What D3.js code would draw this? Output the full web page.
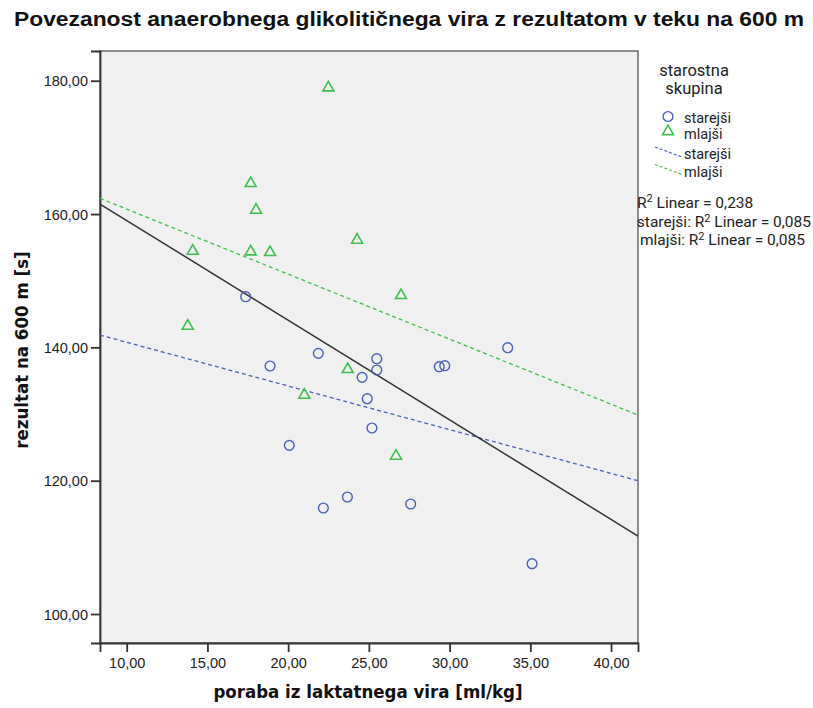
<!DOCTYPE html>
<html>
<head>
<meta charset="utf-8">
<script src="https://cdn.jsdelivr.net/npm/d3@7"></script>
<style>
  html, body { margin: 0; padding: 0; background: #ffffff; }
  svg { display: block; }
</style>
</head>
<body>
<svg id="chart" width="813" height="708"></svg>
<script>
// ---------------- data ----------------
const chartTitle = "Povezanost anaerobnega glikolitičnega vira z rezultatom v teku na 600 m";
const xTitle = "poraba iz laktatnega vira [ml/kg]";
const yTitle = "rezultat na 600 m [s]";
const groupNames = ["starejši", "mlajši"];
const legendTitle = ["starostna", "skupina"];

// starejši (circles)
const olderX = [17.37, 21.87, 18.88, 20.07, 22.18, 23.67, 25.49, 25.49, 24.58, 24.90, 25.19, 29.36, 29.70, 33.60, 27.59, 35.11];
const olderY = [147.6, 139.1, 137.2, 125.3, 115.9, 117.55, 138.3, 136.6, 135.5, 132.3, 127.9, 137.1, 137.25, 139.95, 116.5, 107.55];

// mlajši (triangles)
const youngerX = [22.49, 17.68, 18.01, 14.09, 17.68, 18.88, 24.27, 13.78, 26.99, 23.69, 21.00, 26.68];
const youngerY = [178.95, 164.6, 160.6, 154.45, 154.35, 154.25, 156.1, 143.2, 147.8, 136.7, 132.85, 123.7];

// fit lines: values at the two ends of the x domain
const fitX = [8.346, 41.67];
const fitTotalY = [161.5, 111.7];
const fitOlderY = [141.85, 120.0];
const fitYoungerY = [162.35, 129.85];

const xTicks = [10, 15, 20, 25, 30, 35, 40];
const yTicks = [100, 120, 140, 160, 180];
const r2Labels = ["R² Linear = 0,238", "starejši: R² Linear = 0,085", "mlajši: R² Linear = 0,085"];

// ---------------- layout ----------------
const svg = d3.select("#chart");
const plot = { left: 100, right: 638, top: 51, bottom: 643 };
const blue = "#4a62b4";
const green = "#3ec04e";
const fmt = v => d3.format(".2f")(v).replace(".", ",");

const x = d3.scaleLinear().domain([8.346, 41.67]).range([plot.left, plot.right]);
const y = d3.scaleLinear().domain([95.65, 184.46]).range([plot.bottom, plot.top]);

// title
svg.append("text")
  .attr("x", 409).attr("y", 26)
  .attr("text-anchor", "middle")
  .attr("textLength", 790).attr("lengthAdjust", "spacingAndGlyphs")
  .style("font-family", "'Liberation Sans', Arial, sans-serif")
  .style("font-weight", "bold").style("font-size", "20px").style("fill", "#111")
  .text(chartTitle);

// plot background
svg.append("rect")
  .attr("x", plot.left).attr("y", plot.top)
  .attr("width", plot.right - plot.left).attr("height", plot.bottom - plot.top)
  .attr("fill", "#f0f0f0").attr("stroke", "#555").attr("stroke-width", 1.3);

svg.append("clipPath").attr("id", "clip").append("rect")
  .attr("x", plot.left).attr("y", plot.top)
  .attr("width", plot.right - plot.left).attr("height", plot.bottom - plot.top);

// axes
const xAxis = svg.append("g")
  .attr("transform", `translate(0,${plot.bottom})`)
  .call(d3.axisBottom(x).tickValues(xTicks).tickFormat(fmt).tickSizeOuter(0).tickSize(9).tickPadding(6));
const yAxis = svg.append("g")
  .attr("transform", `translate(${plot.left},0)`)
  .call(d3.axisLeft(y).tickValues(yTicks).tickFormat(fmt).tickSizeOuter(0).tickSize(9).tickPadding(3));
[xAxis, yAxis].forEach(g => {
  g.select(".domain").attr("stroke", "#333").attr("stroke-width", 1.8);
  g.selectAll(".tick line").attr("stroke", "#333").attr("stroke-width", 1.8);
  g.selectAll(".tick text")
    .style("font-family", "'Liberation Sans', Arial, sans-serif")
    .style("font-size", "14.5px").style("fill", "#222");
});
yAxis.selectAll(".tick text").attr("dy", "0.35em");

// axis titles
svg.append("text")
  .attr("x", (plot.left + plot.right) / 2 - 1).attr("y", 698)
  .attr("text-anchor", "middle")
  .style("font-family", "'DejaVu Sans Condensed', 'DejaVu Sans', sans-serif")
  .style("font-weight", "bold").style("font-size", "18.5px").style("fill", "#111")
  .text(xTitle);
svg.append("text")
  .attr("transform", `translate(28,${(plot.top + plot.bottom) / 2 + 3}) rotate(-90)`)
  .attr("text-anchor", "middle")
  .style("font-family", "'DejaVu Sans Condensed', 'DejaVu Sans', sans-serif")
  .style("font-weight", "bold").style("font-size", "18.5px").style("fill", "#111")
  .text(yTitle);

// fit lines
const lineGen = d3.line().x(d => x(d[0])).y(d => y(d[1]));
const fitG = svg.append("g").attr("clip-path", "url(#clip)");
fitG.append("path").datum(d3.zip(fitX, fitOlderY)).attr("d", lineGen)
  .attr("fill", "none").attr("stroke", blue).attr("stroke-width", 1.3).attr("stroke-dasharray", "4,3");
fitG.append("path").datum(d3.zip(fitX, fitYoungerY)).attr("d", lineGen)
  .attr("fill", "none").attr("stroke", green).attr("stroke-width", 1.3).attr("stroke-dasharray", "4,3");
fitG.append("path").datum(d3.zip(fitX, fitTotalY)).attr("d", lineGen)
  .attr("fill", "none").attr("stroke", "#333").attr("stroke-width", 1.5);

// points
const circleSym = d3.symbol().type(d3.symbolCircle).size(75);
const triSym = d3.symbol().type(d3.symbolTriangle).size(52);
svg.append("g").selectAll("path").data(d3.zip(olderX, olderY)).join("path")
  .attr("d", circleSym)
  .attr("transform", d => `translate(${x(d[0])},${y(d[1])})`)
  .attr("fill", "none").attr("stroke", blue).attr("stroke-width", 1.4);
svg.append("g").selectAll("path").data(d3.zip(youngerX, youngerY)).join("path")
  .attr("d", triSym)
  .attr("transform", d => `translate(${x(d[0])},${y(d[1])})`)
  .attr("fill", "none").attr("stroke", green).attr("stroke-width", 1.6);

// legend
const lg = svg.append("g")
  .style("font-family", "Roboto, 'Liberation Sans', sans-serif").style("fill", "#222");
const lgTitle = lg.append("text").attr("x", 694).attr("y", 76)
  .attr("text-anchor", "middle").style("font-size", "16.5px");
legendTitle.forEach((t, i) => {
  lgTitle.append("tspan").attr("x", 694).attr("dy", i === 0 ? 0 : 18).text(t);
});
lg.append("path").attr("d", circleSym).attr("transform", "translate(668,116.5)")
  .attr("fill", "none").attr("stroke", blue).attr("stroke-width", 1.4);
lg.append("path").attr("d", triSym).attr("transform", "translate(668,131.5)")
  .attr("fill", "none").attr("stroke", green).attr("stroke-width", 1.6);
lg.append("line").attr("x1", 655).attr("y1", 147).attr("x2", 682).attr("y2", 157)
  .attr("stroke", blue).attr("stroke-width", 1.2).attr("stroke-dasharray", "3,2");
lg.append("line").attr("x1", 655).attr("y1", 164.5).attr("x2", 682).attr("y2", 174.5)
  .attr("stroke", green).attr("stroke-width", 1.2).attr("stroke-dasharray", "3,2");
const legY = [118, 134, 154, 172];
const legLabels = [groupNames[0], groupNames[1], groupNames[0], groupNames[1]];
legLabels.forEach((t, i) => {
  lg.append("text").attr("x", 684).attr("y", legY[i]).attr("dy", "0.35em")
    .style("font-size", "14.5px").text(t);
});

// R² labels
const r2X = [637, 811, 805];
const r2Anchor = ["start", "end", "end"];
const r2Y = [202, 221.5, 239.5];
r2Labels.forEach((t, i) => {
  const parts = t.split("²");
  const txt = lg.append("text").attr("x", r2X[i]).attr("y", r2Y[i] + 5.5)
    .attr("text-anchor", r2Anchor[i])
    .style("font-size", "15.5px");
  txt.append("tspan").text(parts[0]);
  txt.append("tspan").attr("dy", -5.5).style("font-size", "11px").text("2");
  txt.append("tspan").attr("dy", 5.5).text(parts[1]);
});
</script>
</body>
</html>
